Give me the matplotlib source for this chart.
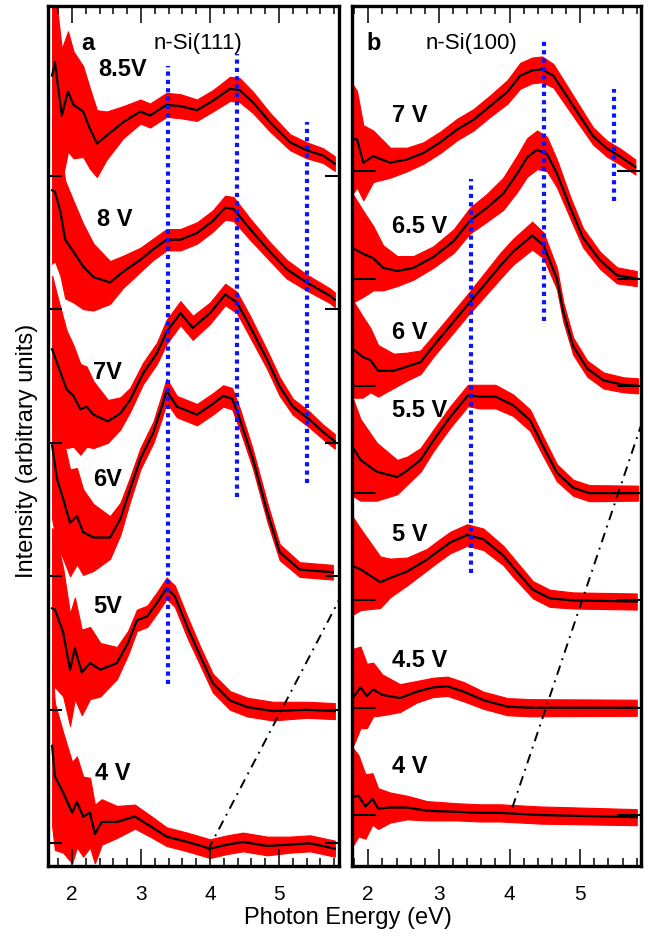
import numpy as np
import matplotlib
matplotlib.use('Agg')
import matplotlib.pyplot as plt
from matplotlib.ticker import MultipleLocator, FixedLocator

plt.rcParams['font.family'] = ['Liberation Sans', 'DejaVu Sans']

# ---------------- panel a : n-Si(111) ----------------
# photon energy (eV), intensity above baseline, noise half-width (arb. units)
a4_E = [1.71, 1.75, 1.87, 2.00, 2.07, 2.16, 2.26, 2.33, 2.43, 2.65, 2.91, 3.13, 3.37, 3.67, 4.00, 4.25, 4.48, 4.83, 5.16, 5.45, 5.81]
a4_I = [0.73, 0.50, 0.38, 0.23, 0.31, 0.20, 0.23, 0.07, 0.16, 0.16, 0.20, 0.13, 0.05, 0.01, -0.04, -0.01, 0.01, -0.02, -0.01, 0.00, -0.04]
a4_N = [0.60, 0.55, 0.45, 0.38, 0.34, 0.30, 0.26, 0.22, 0.17, 0.12, 0.09, 0.08, 0.07, 0.07, 0.07, 0.07, 0.07, 0.07, 0.06, 0.06, 0.06]

a5_E = [1.71, 1.75, 1.87, 1.97, 2.04, 2.14, 2.26, 2.41, 2.65, 2.81, 2.94, 3.09, 3.23, 3.37, 3.49, 3.67, 3.86, 4.04, 4.29, 4.54, 4.91, 5.40, 5.81]
a5_I = [0.76, 0.75, 0.58, 0.30, 0.46, 0.28, 0.35, 0.30, 0.35, 0.50, 0.67, 0.70, 0.80, 0.91, 0.85, 0.62, 0.40, 0.20, 0.07, 0.02, -0.01, 0.00, -0.01]
a5_N = [0.60, 0.58, 0.48, 0.42, 0.38, 0.32, 0.27, 0.20, 0.12, 0.09, 0.08, 0.08, 0.08, 0.08, 0.08, 0.08, 0.07, 0.07, 0.07, 0.07, 0.07, 0.06, 0.06]

a6_E = [1.71, 1.78, 1.87, 1.97, 2.07, 2.16, 2.31, 2.55, 2.70, 2.84, 2.99, 3.18, 3.30, 3.37, 3.52, 3.81, 4.04, 4.19, 4.32, 4.43, 4.62, 4.83, 5.01, 5.30, 5.78]
a6_I = [0.98, 0.73, 0.58, 0.40, 0.45, 0.33, 0.29, 0.29, 0.43, 0.65, 0.88, 1.08, 1.27, 1.39, 1.27, 1.21, 1.29, 1.35, 1.33, 1.18, 0.88, 0.48, 0.18, 0.05, 0.03]
a6_N = [0.55, 0.50, 0.45, 0.40, 0.36, 0.32, 0.25, 0.16, 0.12, 0.09, 0.08, 0.08, 0.09, 0.09, 0.08, 0.08, 0.08, 0.08, 0.08, 0.08, 0.07, 0.07, 0.06, 0.055, 0.055]

a7_E = [1.71, 1.80, 1.92, 2.02, 2.12, 2.21, 2.31, 2.52, 2.70, 2.84, 3.03, 3.23, 3.37, 3.57, 3.75, 4.00, 4.22, 4.39, 4.58, 4.83, 5.01, 5.20, 5.45, 5.64, 5.81]
a7_I = [0.70, 0.57, 0.40, 0.35, 0.25, 0.27, 0.21, 0.16, 0.22, 0.32, 0.52, 0.67, 0.83, 0.97, 0.86, 0.97, 1.11, 1.05, 0.87, 0.62, 0.42, 0.27, 0.17, 0.08, 0.01]
a7_N = [0.55, 0.50, 0.44, 0.38, 0.34, 0.30, 0.25, 0.16, 0.12, 0.09, 0.08, 0.08, 0.09, 0.09, 0.09, 0.08, 0.08, 0.08, 0.08, 0.07, 0.07, 0.06, 0.06, 0.055, 0.055]

a8_E = [1.71, 1.75, 1.83, 1.90, 2.02, 2.16, 2.31, 2.55, 2.74, 2.99, 3.18, 3.37, 3.57, 3.81, 4.04, 4.22, 4.34, 4.58, 4.87, 5.11, 5.40, 5.74, 5.81]
a8_I = [0.89, 0.88, 0.73, 0.52, 0.43, 0.32, 0.24, 0.20, 0.28, 0.37, 0.45, 0.52, 0.52, 0.57, 0.66, 0.76, 0.75, 0.60, 0.43, 0.30, 0.20, 0.10, 0.07]
a8_N = [0.55, 0.52, 0.48, 0.44, 0.38, 0.32, 0.25, 0.16, 0.12, 0.09, 0.08, 0.08, 0.08, 0.08, 0.08, 0.09, 0.09, 0.08, 0.07, 0.07, 0.06, 0.055, 0.055]

a85_E = [1.71, 1.75, 1.85, 1.94, 2.02, 2.16, 2.26, 2.36, 2.50, 2.74, 2.99, 3.13, 3.37, 3.57, 3.81, 4.04, 4.29, 4.43, 4.62, 4.87, 5.16, 5.40, 5.64, 5.81]
a85_I = [0.75, 0.85, 0.45, 0.63, 0.53, 0.48, 0.35, 0.24, 0.30, 0.40, 0.48, 0.45, 0.53, 0.52, 0.49, 0.56, 0.65, 0.64, 0.55, 0.40, 0.25, 0.19, 0.15, 0.09]
a85_N = [0.55, 0.55, 0.50, 0.45, 0.40, 0.34, 0.30, 0.25, 0.18, 0.12, 0.09, 0.09, 0.09, 0.09, 0.08, 0.08, 0.09, 0.09, 0.08, 0.07, 0.06, 0.06, 0.055, 0.055]

a_labels = ['4 V', '5V', '6V', '7V', '8 V', '8.5V']
a_label_E = [2.33, 2.30, 2.30, 2.30, 2.36, 2.38]
a_label_y = [0.53, 1.78, 2.73, 3.53, 4.68, 5.80]

# blue markers: energy, bottom, top
a_mark_E = [3.39, 4.39, 5.41]
a_mark_lo = [1.19, 2.59, 2.70]
a_mark_hi = [5.82, 5.91, 5.40]
a_guide_E = [3.97, 5.87]
a_guide_y = [-0.05, 1.82]

# ---------------- panel b : n-Si(100) ----------------
b4_E = [1.79, 1.86, 1.96, 2.06, 2.14, 2.31, 2.55, 2.83, 3.26, 3.58, 3.87, 4.44, 5.80]
b4_I = [0.17, 0.18, 0.08, 0.15, 0.06, 0.07, 0.07, 0.04, 0.03, 0.02, 0.02, 0.00, -0.02]
b4_N = [0.45, 0.38, 0.30, 0.24, 0.19, 0.14, 0.11, 0.09, 0.08, 0.08, 0.08, 0.08, 0.075]

b45_E = [1.79, 1.89, 1.98, 2.07, 2.20, 2.45, 2.69, 2.92, 3.12, 3.35, 3.63, 3.97, 4.30, 5.80]
b45_I = [0.10, 0.19, 0.11, 0.17, 0.12, 0.09, 0.15, 0.19, 0.20, 0.15, 0.07, 0.01, 0.00, 0.00]
b45_N = [0.45, 0.38, 0.30, 0.25, 0.19, 0.13, 0.10, 0.09, 0.09, 0.09, 0.08, 0.08, 0.08, 0.075]

b5_E = [1.79, 1.89, 2.17, 2.31, 2.55, 2.83, 2.97, 3.16, 3.40, 3.63, 3.91, 4.05, 4.33, 4.57, 4.90, 5.80]
b5_I = [0.32, 0.29, 0.17, 0.21, 0.27, 0.38, 0.45, 0.54, 0.61, 0.57, 0.42, 0.31, 0.10, 0.02, 0.00, -0.01]
b5_N = [0.45, 0.38, 0.24, 0.18, 0.13, 0.10, 0.10, 0.10, 0.10, 0.10, 0.09, 0.09, 0.08, 0.08, 0.075, 0.075]

b55_E = [1.79, 1.89, 2.12, 2.41, 2.55, 2.74, 2.92, 3.16, 3.41, 3.58, 3.80, 4.05, 4.29, 4.48, 4.67, 4.90, 5.13, 5.82]
b55_I = [0.42, 0.31, 0.20, 0.15, 0.21, 0.31, 0.49, 0.71, 0.91, 0.90, 0.90, 0.82, 0.68, 0.43, 0.19, 0.05, 0.00, 0.00]
b55_N = [0.45, 0.38, 0.27, 0.16, 0.13, 0.11, 0.10, 0.10, 0.10, 0.11, 0.11, 0.10, 0.10, 0.09, 0.08, 0.075, 0.075, 0.07]

b6_E = [1.79, 1.92, 2.03, 2.14, 2.36, 2.55, 2.74, 2.92, 3.16, 3.40, 3.63, 3.87, 4.05, 4.32, 4.48, 4.67, 4.76, 4.90, 5.10, 5.33, 5.61, 5.82]
b6_I = [0.34, 0.27, 0.24, 0.14, 0.14, 0.18, 0.22, 0.37, 0.56, 0.75, 0.93, 1.12, 1.25, 1.40, 1.31, 1.00, 0.69, 0.37, 0.16, 0.05, 0.01, 0.00]
b6_N = [0.45, 0.38, 0.30, 0.24, 0.16, 0.13, 0.11, 0.10, 0.10, 0.10, 0.11, 0.12, 0.12, 0.13, 0.12, 0.10, 0.09, 0.08, 0.075, 0.075, 0.07, 0.07]

b65_E = [1.79, 1.93, 2.07, 2.21, 2.41, 2.64, 2.92, 3.21, 3.44, 3.68, 3.91, 4.11, 4.25, 4.39, 4.53, 4.67, 4.86, 5.04, 5.28, 5.52, 5.80]
b65_I = [0.28, 0.23, 0.19, 0.10, 0.07, 0.10, 0.20, 0.35, 0.54, 0.66, 0.79, 0.98, 1.13, 1.20, 1.16, 0.98, 0.66, 0.38, 0.17, 0.03, 0.00]
b65_N = [0.50, 0.40, 0.30, 0.21, 0.14, 0.11, 0.10, 0.11, 0.12, 0.13, 0.15, 0.17, 0.18, 0.18, 0.16, 0.13, 0.10, 0.09, 0.08, 0.075, 0.07]

b7_E = [1.79, 1.84, 1.93, 2.07, 2.31, 2.55, 2.78, 3.02, 3.26, 3.49, 3.73, 3.97, 4.15, 4.32, 4.46, 4.62, 4.81, 5.00, 5.18, 5.38, 5.56, 5.78]
b7_I = [0.30, 0.30, 0.08, 0.14, 0.08, 0.11, 0.17, 0.27, 0.39, 0.48, 0.61, 0.74, 0.89, 0.94, 0.95, 0.89, 0.70, 0.51, 0.33, 0.21, 0.14, 0.04]
b7_N = [0.50, 0.45, 0.35, 0.24, 0.14, 0.11, 0.10, 0.10, 0.10, 0.10, 0.10, 0.11, 0.12, 0.12, 0.12, 0.11, 0.10, 0.09, 0.08, 0.075, 0.075, 0.07]

b_labels = ['4 V', '4.5 V', '5 V', '5.5 V', '6 V', '6.5 V', '7 V']
b_label_E = [2.33, 2.33, 2.33, 2.33, 2.33, 2.33, 2.33]
b_label_y = [0.46, 1.45, 2.62, 3.78, 4.51, 5.49, 6.53]

b_mark_E = [3.45, 4.49, 5.48]
b_mark_lo = [2.26, 4.60, 5.72]
b_mark_hi = [5.93, 7.24, 6.77]
b_guide_E = [4.04, 5.86]
b_guide_y = [0.07, 3.63]

panels = [
    dict(spectra=[(a4_E, a4_I, a4_N), (a5_E, a5_I, a5_N), (a6_E, a6_I, a6_N),
                  (a7_E, a7_I, a7_N), (a8_E, a8_I, a8_N), (a85_E, a85_I, a85_N)],
         labels=a_labels, lab_E=a_label_E, lab_y=a_label_y,
         mark_E=a_mark_E, mark_lo=a_mark_lo, mark_hi=a_mark_hi,
         guide_E=a_guide_E, guide_y=a_guide_y,
         xlim=(1.65, 5.87), ylim=(-0.17, 6.27), ytick_len=10,
         letter='a', letter_E=2.23, title='n-Si(111)', title_E=3.83, title_y=6.0,
         rect=[0.0737, 0.0747, 0.4470, 0.9178]),
    dict(spectra=[(b4_E, b4_I, b4_N), (b45_E, b45_I, b45_N), (b5_E, b5_I, b5_N),
                  (b55_E, b55_I, b55_N), (b6_E, b6_I, b6_N), (b65_E, b65_I, b65_N),
                  (b7_E, b7_I, b7_N)],
         labels=b_labels, lab_E=b_label_E, lab_y=b_label_y,
         mark_E=b_mark_E, mark_lo=b_mark_lo, mark_hi=b_mark_hi,
         guide_E=b_guide_E, guide_y=b_guide_y,
         xlim=(1.77, 5.86), ylim=(-0.475, 7.54), ytick_len=17,
         letter='b', letter_E=2.07, title='n-Si(100)', title_E=3.46, title_y=7.2,
         rect=[0.5407, 0.0747, 0.4439, 0.9178]),
]

fig = plt.figure(figsize=(6.51, 9.37), dpi=100)

for p in panels:
    ax = fig.add_axes(p['rect'])
    for i, (E, I, N) in enumerate(p['spectra']):
        E = np.array(E)
        I = np.array(I) + i
        N = np.array(N)
        ax.fill_between(E, I - N, I + N, color='#ff0000', lw=0.8, zorder=1)
        ax.plot(E, I, color='black', lw=1.6, zorder=3)
        ax.text(p['lab_E'][i], p['lab_y'][i], p['labels'][i], fontsize=17,
                fontweight='bold', ha='left', va='center', zorder=5)

    for E, lo, hi in zip(p['mark_E'], p['mark_lo'], p['mark_hi']):
        ax.plot([E, E], [lo, hi], color='#0a14ff', lw=3.0, dashes=(1.0, 1.0),
                solid_capstyle='butt', dash_capstyle='butt', zorder=4)

    ax.plot(p['guide_E'], p['guide_y'], color='black', lw=1.4,
            linestyle=(0, (5, 3, 1, 3)), zorder=4)

    ax.text(p['letter_E'], p['title_y'], p['letter'], fontsize=17,
            fontweight='bold', ha='center', va='center')
    ax.text(p['title_E'], p['title_y'], p['title'], fontsize=16,
            ha='center', va='center')

    ax.set_xlim(*p['xlim'])
    ax.set_ylim(*p['ylim'])
    ax.xaxis.set_major_locator(FixedLocator([2, 3, 4, 5]))
    ax.xaxis.set_minor_locator(MultipleLocator(0.2))
    ax.yaxis.set_major_locator(FixedLocator(range(len(p['spectra']))))
    ax.tick_params(axis='x', which='major', direction='in', length=12, width=1.1,
                   top=True, labelsize=15, pad=13)
    ax.tick_params(axis='x', which='minor', direction='in', length=6, width=1.1, top=True)
    ax.tick_params(axis='y', which='major', direction='in', length=p['ytick_len'],
                   width=1.5, left=True, right=True, labelleft=False)
    for s in ax.spines.values():
        s.set_linewidth(2.4)

fig.text(27 / 651, 1 - 451 / 937, 'Intensity (arbitrary units)', rotation=90,
         fontsize=17, ha='center', va='center')
fig.text(348 / 651, 1 - 918 / 937, 'Photon Energy (eV)', fontsize=17,
         ha='center', va='center')

fig.savefig('out.png', dpi=100)
